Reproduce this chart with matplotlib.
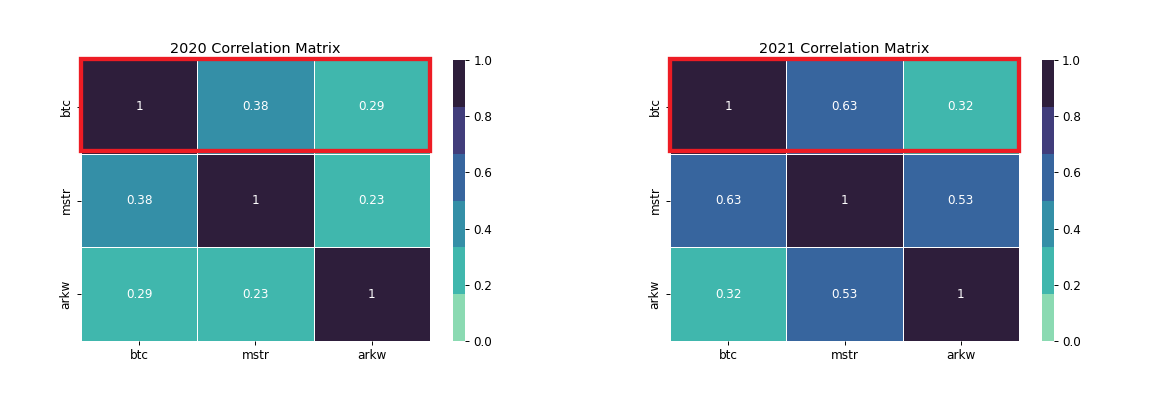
import matplotlib
matplotlib.use("Agg")
import matplotlib.pyplot as plt
from matplotlib.patches import Rectangle
import numpy as np
import seaborn as sns

labels = ["btc", "mstr", "arkw"]
corr_2020 = [[1.00, 0.38, 0.29],
             [0.38, 1.00, 0.23],
             [0.29, 0.23, 1.00]]
corr_2021 = [[1.00, 0.63, 0.32],
             [0.63, 1.00, 0.53],
             [0.32, 0.53, 1.00]]
titles = ["2020 Correlation Matrix", "2021 Correlation Matrix"]
highlight_row = 0

DPI = 86.4
fig = plt.figure(figsize=(1151 / DPI, 396 / DPI), dpi=DPI)

cmap = sns.color_palette("mako_r", 6)

# axes positions: [heatmap, colorbar]
positions = [
    ([81 / 1151, 55 / 396, 349 / 1151, 281 / 396], [453 / 1151, 55 / 396, 12 / 1151, 281 / 396]),
    ([670 / 1151, 55 / 396, 349 / 1151, 281 / 396], [1041.5 / 1151, 55 / 396, 12 / 1151, 281 / 396]),
]

for data, title, (hpos, cpos) in zip([corr_2020, corr_2021], titles, positions):
    ax = fig.add_axes(hpos)
    cax = fig.add_axes(cpos)
    sns.heatmap(np.array(data), annot=True, cmap=cmap, vmin=0, vmax=1,
                linewidths=0.6, linecolor="white",
                xticklabels=labels, yticklabels=labels,
                ax=ax, cbar_ax=cax)
    ax.set_title(title, fontsize=12)
    ax.tick_params(labelsize=10)
    plt.setp(ax.get_yticklabels(), rotation=90, va="center")
    cax.tick_params(labelsize=10)
    cax.set_yticks([0, 0.2, 0.4, 0.6, 0.8, 1.0])
    cax.set_yticklabels(["0.0", "0.2", "0.4", "0.6", "0.8", "1.0"])
    n = len(labels)
    ax.add_patch(Rectangle((0.0, highlight_row - 0.015), n, 0.99, fill=False,
                           edgecolor="#ed1c24", linewidth=3.6, clip_on=False, zorder=5))

fig.savefig("out.png", dpi=DPI)
